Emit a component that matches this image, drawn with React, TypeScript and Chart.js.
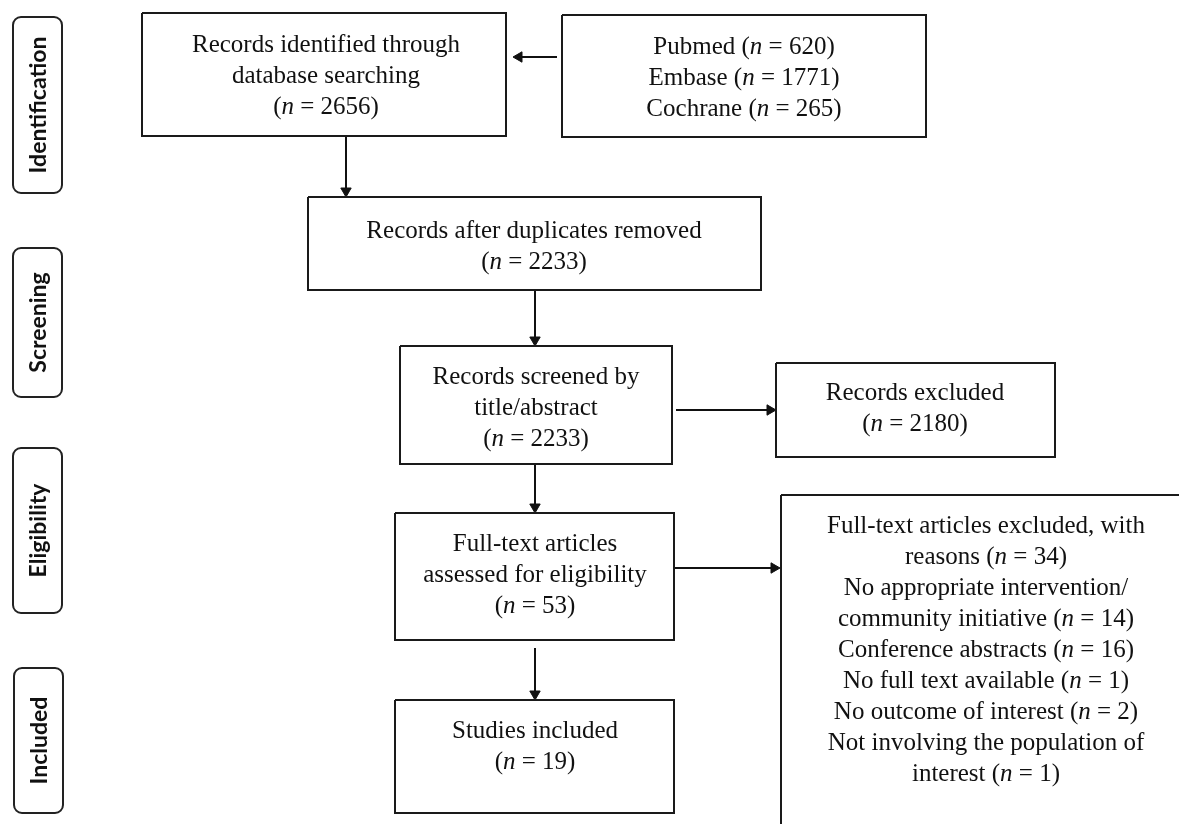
import React, { useEffect, useRef } from "react";
import { Chart, registerables } from "chart.js";

Chart.register(...registerables);

// ---- Flow boxes (left, top, right, bottom in diagram units) ----
const boxNames = ["identified", "sources", "dedup", "screened", "excluded", "fulltext", "included", "ftExcluded"];
const boxLeft = [142, 562, 308, 400, 776, 395, 395, 781];
const boxTop = [13, 15, 197, 346, 363, 513, 700, 495];
const boxRight = [506, 926, 761, 672, 1055, 674, 674, 1200];
const boxBottom = [136, 137, 290, 464, 457, 640, 813, 840];

// ---- Box texts ----
const boxText: string[][] = [
  ["Records identified through", "database searching", "(*n* = 2656)"],
  ["Pubmed (*n* = 620)", "Embase (*n* = 1771)", "Cochrane (*n* = 265)"],
  ["Records after duplicates removed", "(*n* = 2233)"],
  ["Records screened by", "title/abstract", "(*n* = 2233)"],
  ["Records excluded", "(*n* = 2180)"],
  ["Full-text articles", "assessed for eligibility", "(*n* = 53)"],
  ["Studies included", "(*n* = 19)"],
  [
    "Full-text articles excluded, with",
    "reasons (*n* = 34)",
    "No appropriate intervention/",
    "community initiative (*n* = 14)",
    "Conference abstracts (*n* = 16)",
    "No full text available (*n* = 1)",
    "No outcome of interest (*n* = 2)",
    "Not involving the population of",
    "interest (*n* = 1)",
  ],
];
const textCenterX = [326, 744, 534, 536, 915, 535, 535, 986];
const textFirstY = [45, 47, 231, 377, 393, 544, 731, 526];

// ---- Arrows (from -> to) ----
const arrowFromX = [557, 346, 535, 676, 535, 674, 535];
const arrowFromY = [57, 136, 290, 410, 464, 568, 648];
const arrowToX = [513, 346, 535, 776, 535, 780, 535];
const arrowToY = [57, 197, 346, 410, 513, 568, 700];

// ---- Stage labels ----
const stageNames = ["Identification", "Screening", "Eligibility", "Included"];
const stageLeft = [13, 13, 13, 14];
const stageTop = [17, 248, 448, 668];
const stageRight = [62, 62, 62, 63];
const stageBottom = [193, 397, 613, 813];

const LINE_H = 31;
const SERIF = "'Liberation Serif', 'Times New Roman', serif";

function drawRichLine(ctx: CanvasRenderingContext2D, text: string, cx: number, cy: number, size: number) {
  const parts = text.split("*");
  const fonts = parts.map((_, i) => (i % 2 === 1 ? `italic ${size}px ${SERIF}` : `${size}px ${SERIF}`));
  let total = 0;
  const widths = parts.map((p, i) => {
    ctx.font = fonts[i];
    const w = ctx.measureText(p).width;
    total += w;
    return w;
  });
  let x = cx - total / 2;
  parts.forEach((p, i) => {
    ctx.font = fonts[i];
    ctx.fillText(p, x, cy);
    x += widths[i];
  });
}

const textPlugin = {
  id: "flowText",
  afterDatasetsDraw(chart: any) {
    const ctx: CanvasRenderingContext2D = chart.ctx;
    const xs = chart.scales.x;
    const ys = chart.scales.y;
    ctx.save();
    ctx.fillStyle = "#111";
    ctx.textAlign = "left";
    ctx.textBaseline = "middle";
    boxText.forEach((lines, b) => {
      lines.forEach((ln, i) => {
        const px = xs.getPixelForValue(textCenterX[b]);
        const py = ys.getPixelForValue(textFirstY[b] + i * LINE_H);
        drawRichLine(ctx, ln, px, py, 25);
      });
    });
    // stage labels
    stageNames.forEach((name, i) => {
      const l = xs.getPixelForValue(stageLeft[i]);
      const r = xs.getPixelForValue(stageRight[i]);
      const t = ys.getPixelForValue(stageTop[i]);
      const b = ys.getPixelForValue(stageBottom[i]);
      ctx.beginPath();
      ctx.lineWidth = 2;
      ctx.strokeStyle = "#222";
      ctx.roundRect(l, t, r - l, b - t, 8);
      ctx.stroke();
      ctx.save();
      ctx.translate((l + r) / 2 + 1, (t + b) / 2);
      ctx.rotate(-Math.PI / 2);
      ctx.font = "bold 23px Lato, 'Open Sans', sans-serif";
      ctx.textAlign = "center";
      ctx.textBaseline = "middle";
      ctx.fillStyle = "#111";
      ctx.fillText(name, 0, 0);
      ctx.restore();
    });
    ctx.restore();
  },
};

function buildDatasets() {
  const ds: any[] = [];
  boxNames.forEach((name, i) => {
    ds.push({
      label: name,
      data: [
        { x: boxLeft[i], y: boxTop[i] },
        { x: boxRight[i], y: boxTop[i] },
        { x: boxRight[i], y: boxBottom[i] },
        { x: boxLeft[i], y: boxBottom[i] },
        { x: boxLeft[i], y: boxTop[i] },
      ],
      showLine: true,
      borderColor: "#1a1a1a",
      borderWidth: 2,
      pointRadius: 0,
      borderJoinStyle: "miter",
      fill: false,
    });
  });
  arrowFromX.forEach((_, i) => {
    const dx = arrowToX[i] - arrowFromX[i];
    const dy = arrowToY[i] - arrowFromY[i];
    const len = Math.hypot(dx, dy);
    const r = 6;
    const ux = dx / len, uy = dy / len;
    const tipX = arrowToX[i] - ux * r;
    const tipY = arrowToY[i] - uy * r;
    let rot = 0;
    if (dx > 0) rot = 90;
    else if (dx < 0) rot = 270;
    else if (dy > 0) rot = 180;
    ds.push({
      label: "arrow" + i,
      data: [
        { x: arrowFromX[i], y: arrowFromY[i] },
        { x: tipX, y: tipY },
      ],
      showLine: true,
      borderColor: "#111",
      borderWidth: 2,
      pointRadius: [0, r],
      pointStyle: "triangle",
      rotation: rot,
      pointBackgroundColor: "#111",
      pointBorderColor: "#111",
      pointBorderWidth: 1,
      fill: false,
    });
  });
  return ds;
}

export default function App() {
  const ref = useRef<HTMLCanvasElement | null>(null);
  useEffect(() => {
    if (!ref.current) return;
    const chart = new Chart(ref.current, {
      type: "scatter",
      data: { datasets: buildDatasets() },
      options: {
        animation: false,
        responsive: false,
        devicePixelRatio: 1,
        layout: { padding: 0, autoPadding: false },
        plugins: { legend: { display: false }, tooltip: { enabled: false } },
        scales: {
          x: { type: "linear", min: 0, max: 1179, display: false },
          y: { type: "linear", min: 0, max: 824, reverse: true, display: false },
        },
      } as any,
      plugins: [textPlugin],
    });
    return () => chart.destroy();
  }, []);
  return (
    <div style={{ position: "absolute", left: 0, top: 0, width: 1179, height: 824, background: "#fff" }}>
      <canvas ref={ref} width={1179} height={824} style={{ display: "block" }} />
    </div>
  );
}
